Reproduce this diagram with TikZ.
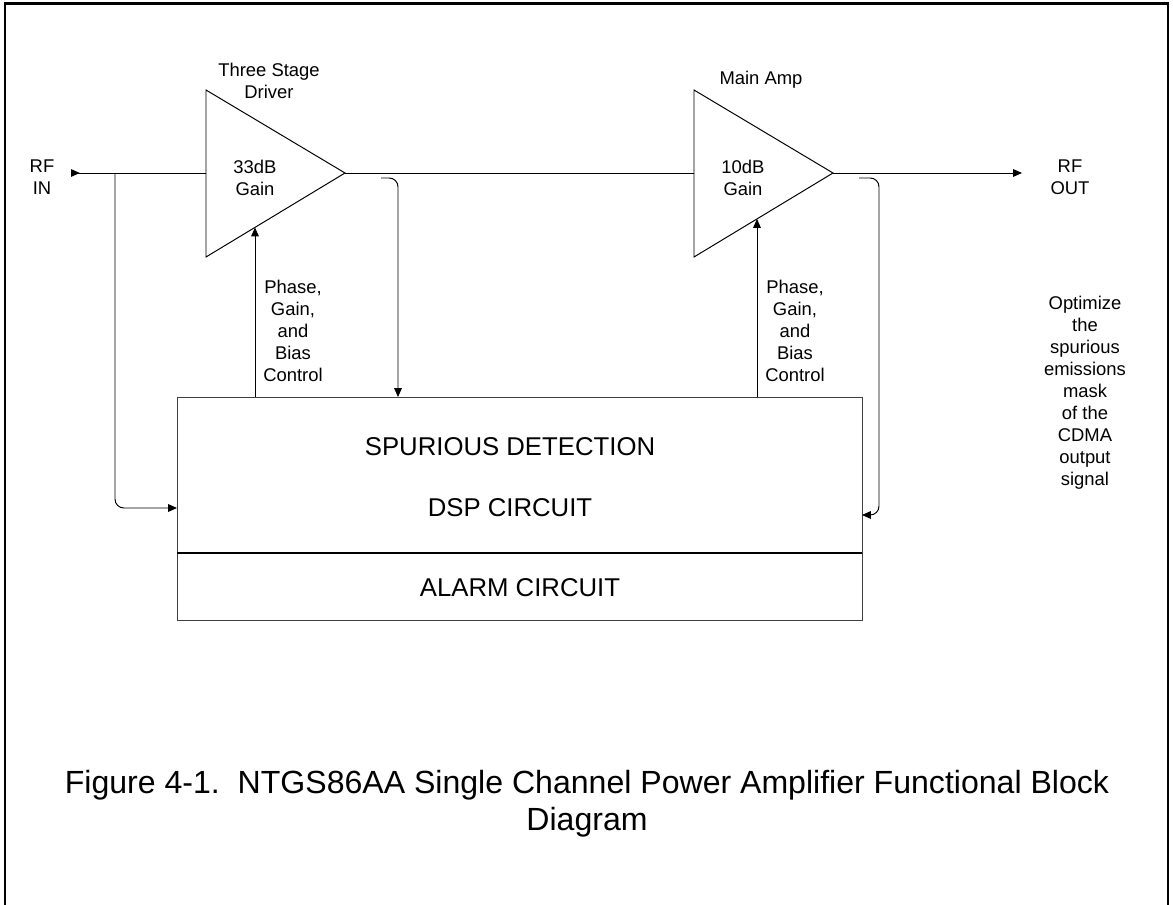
\documentclass[tikz,border=0pt]{standalone}
\usepackage{fontspec}
\setmainfont{Liberation Sans}
\usetikzlibrary{arrows.meta}
\begin{document}
\begin{tikzpicture}[x=0.025cm,y=-0.025cm,
  wire/.style={line width=0.7pt},
  tip/.style={-{Triangle[length=2.2mm,width=1.9mm]}},
  fb/.style={line width=0.7pt, rounded corners=0.22cm, tip},
  lbl/.style={inner sep=0pt, align=center, font=\fontsize{13.1}{15.65}\selectfont},
  big/.style={inner sep=0pt, align=center, font=\fontsize{18.3}{22}\selectfont},
  captxt/.style={inner sep=0pt, align=center, font=\fontsize{22.8}{26.3}\selectfont}]
\useasboundingbox (0,0) rectangle (1173,905);
\draw[line width=2.1pt] (5,912) -- (5,3.5) -- (1168,3.5) -- (1168,912);

% amplifiers
\coordinate (a1top) at (206,90);
\coordinate (a1bot) at (206,257);
\coordinate (a1in) at (206,173);
\coordinate (a1out) at (345,173);
\draw[wire] (a1top) -- (a1out) -- (a1bot) -- cycle;
\coordinate (a2top) at (694,90);
\coordinate (a2bot) at (694,257);
\coordinate (a2in) at (694,173);
\coordinate (a2out) at (833,173);
\draw[wire] (a2top) -- (a2out) -- (a2bot) -- cycle;

% DSP box
\node[draw=black!75, line width=0.7pt, minimum width=17.125cm, minimum height=5.575cm,
      anchor=north west, inner sep=0pt] (dsp) at (177,397) {};
\coordinate (divL) at (177,553);
\coordinate (divR) at (862,553);
\draw[line width=1.4pt] (divL) -- (divR);

% labels
\node[lbl] (rfinlbl) at (42,177.5) {RF\\IN};
\node[lbl] (drvlbl) at (269,81) {Three Stage\\Driver};
\node[lbl] (g1lbl) at (255,177.5) {33dB\\Gain};
\node[lbl] (mainlbl) at (761,80) {Main Amp};
\node[lbl] (g2lbl) at (743,177.5) {10dB\\Gain};
\node[lbl] (rfoutlbl) at (1070,177.5) {RF\\OUT};
\node[lbl] (ctl1) at (293,330.5) {Phase,\\Gain,\\and\\Bias\\Control};
\node[lbl] (ctl2) at (795,330.5) {Phase,\\Gain,\\and\\Bias\\Control};
\node[lbl] (opt) at (1085,393) {Optimize\\the\\spurious\\emissions\\mask\\of the\\CDMA\\output\\signal};
\node[big] (spur) at (510,447) {SPURIOUS DETECTION};
\node[big] (dspc) at (510,508) {DSP CIRCUIT};
\node[big] (alarm) at (520,588) {ALARM CIRCUIT};
\node[captxt] (caption) at (587,803.5) {Figure 4-1.\ \ NTGS86AA Single Channel Power Amplifier Functional Block\\Diagram};

% connectors
\coordinate (rfin) at (71,173);
\coordinate (rfout) at (1022,173);
\draw[wire, {Triangle[reversed,length=2.2mm,width=1.9mm]}-] (rfin) -- (a1in);
\draw[wire] (a1out) -- (a2in);
\draw[wire, tip] (a2out) -- (rfout);

\coordinate (br) at (115,173);
\coordinate (dspL) at (177,508);
\draw[fb] (br) |- (dspL);

\coordinate (c1) at (255,397);
\coordinate (c1t) at (255,227.5);
\draw[wire, tip] (c1) -- (c1t);
\coordinate (c2) at (757,397);
\coordinate (c2t) at (757,219);
\draw[wire, tip] (c2) -- (c2t);

\coordinate (fb1s) at (381,178);
\coordinate (fb1e) at (398,397);
\draw[fb] (fb1s) -| (fb1e);

\coordinate (fb2s) at (859,178);
\coordinate (fb2c) at (879,515);
\coordinate (fb2e) at (862,515);
\draw[fb] (fb2s) -| (fb2c) -- (fb2e);
\end{tikzpicture}
\end{document}
